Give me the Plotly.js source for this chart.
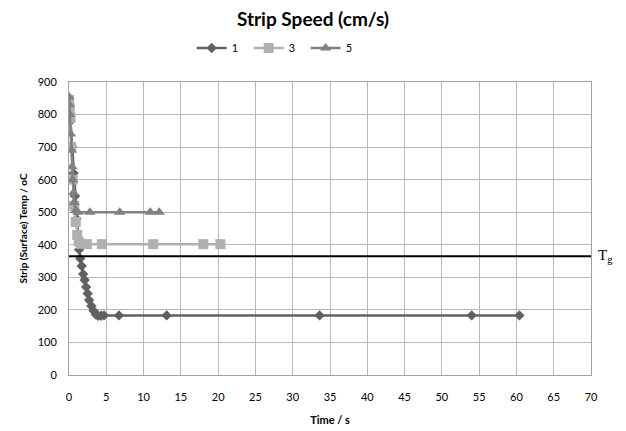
<!DOCTYPE html>
<html><head><meta charset="utf-8">
<script src="https://cdn.plot.ly/plotly-3.0.1.min.js"></script>
<style>html,body{margin:0;padding:0;background:#fff}#c{width:626px;height:431px}</style>
</head><body><div id="c"></div>
<script>
const t1 = [0,0.2,0.4,0.6,0.8,1.0,1.2,1.35,1.5,1.7,1.9,2.1,2.3,2.5,2.7,3.0,3.3,3.6,3.9,4.3,4.7,6.7,13.1,33.6,54.0,60.4];
const v1 = [850,780,700,620,550,480,420,385,358,335,310,292,270,250,230,212,197,186,182,182,183,183,183,183,183,183];
const t3 = [0,0.1,0.2,0.3,0.5,0.7,0.9,1.1,1.3,1.6,2.4,4.4,11.3,18.0,20.3];
const v3 = [845,820,790,700,600,520,470,430,410,403,402,402,402,402,402];
const t5 = [0,0.05,0.1,0.2,0.3,0.4,0.5,0.6,0.7,0.9,1.2,2.8,6.8,10.9,12.1];
const v5 = [855,830,800,740,690,640,600,560,530,505,500,500,500,500,500];
const seriesNames = ["1","3","5"];
const tg = 365;
const xRange = [0,70], yRange = [0,900];

const traces = [
 {x:t1,y:v1,name:seriesNames[0],mode:'lines+markers',line:{color:'#606060',width:2.5},marker:{symbol:'diamond',size:8,color:'#606060'}},
 {x:t3,y:v3,name:seriesNames[1],mode:'lines+markers',line:{color:'#b0b0b0',width:2.5},marker:{symbol:'square',size:10,color:'#b0b0b0'}},
 {x:t5,y:v5,name:seriesNames[2],mode:'lines+markers',line:{color:'#808080',width:2.5},marker:{symbol:'triangle-up',size:10,color:'#808080'}}
];
const layout = {
 width:626,height:431,
 margin:{l:69,r:35,t:82,b:56},
 paper_bgcolor:'#fff',plot_bgcolor:'#fff',
 font:{family:'Lato, "Open Sans", sans-serif',size:11,color:'#000'},
 title:{text:'<b>Strip Speed (cm/s)</b>',x:0.5,xanchor:'center',y:0.955,yanchor:'middle',font:{size:19,family:'Lato, sans-serif',color:'#000'}},
 showlegend:true,
 legend:{orientation:'h',x:0.235,xanchor:'left',y:1.116,yanchor:'middle',font:{size:11},entrywidth:12,entrywidthmode:'pixels',itemwidth:30,tracegroupgap:0},
 xaxis:{range:xRange,dtick:5,tick0:0,showgrid:true,gridcolor:'#b8b8b8',gridwidth:1,zeroline:false,showline:true,linecolor:'#a0a0a0',mirror:true,ticks:'',ticklen:0,ticklabelstandoff:12,
   title:{text:'<b>Time / s</b>',font:{size:11},standoff:14},tickfont:{size:11}},
 yaxis:{range:yRange,dtick:100,tick0:0,showgrid:true,gridcolor:'#b8b8b8',gridwidth:1,zeroline:false,showline:true,linecolor:'#a0a0a0',mirror:true,ticks:'',ticklabelstandoff:9,
   title:{text:'<b>Strip (Surface) Temp / oC</b>',font:{size:10},standoff:8},tickfont:{size:11}},
 shapes:[{type:'line',xref:'x',yref:'y',x0:xRange[0],x1:xRange[1],y0:tg,y1:tg,line:{color:'#000',width:2}}],
 annotations:[{xref:'paper',yref:'y',x:1.01,y:tg,xanchor:'left',yanchor:'middle',text:'T<sub>g</sub>',showarrow:false,font:{family:'"Liberation Serif", serif',size:15,color:'#000'}}]
};
Plotly.newPlot('c',traces,layout,{displayModeBar:false});
</script></body></html>
